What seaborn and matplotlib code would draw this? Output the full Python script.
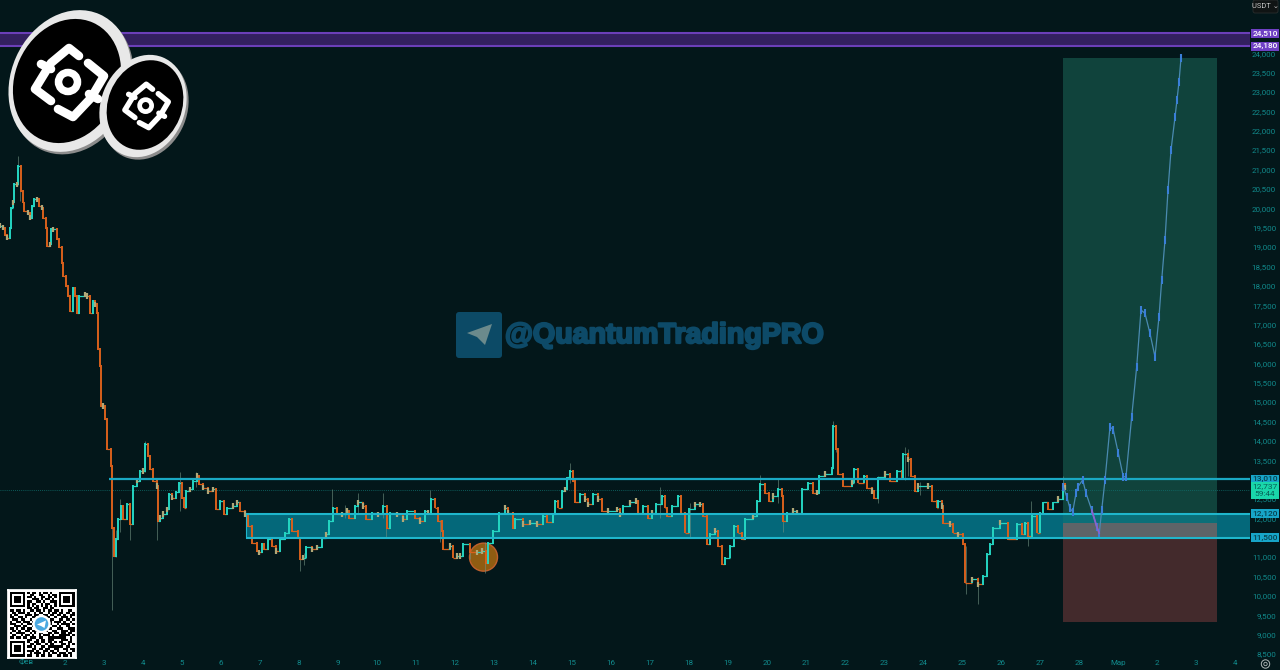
import numpy as np
import matplotlib
matplotlib.use("Agg")
import matplotlib.pyplot as plt
import matplotlib.patheffects as pe
from matplotlib.patches import Rectangle, Ellipse, Circle, FancyBboxPatch, Polygon
from matplotlib.colors import ListedColormap
import seaborn as sns

# ---------- data ----------
candle_time = [
 0,2.7,5,7.3,10,11,13.3,14.3,16.7,18.3,20.7,22.7,24,28.3,30,32.3,34,36.7,39.3,41.7,43.3,46,47.3,50,50.7,53.3,56.7,59.3,61.7,63.3,66,68.3,70,72.7,75,77.3,79.3,85,87.3,90,92.7,95,96.7,97.7,100,101,103.3,105.3,107.3,
 110.7,111.7,114,116,118.3,120.7,123.3,126.7,130,133.3,136.7,140,143.3,145,147.7,150,152.7,156.7,157.7,160,163.3,166.7,169.3,172,176,179,181.7,184,186,190,193.3,196.7,199,203.3,208.3,213.3,216,220,224,226.7,233.3,236.7,240,245,248.3,251.7,256.7,
 259.3,261.7,264,268.3,271.7,276,280,285,289.3,291.7,298.3,300,303.3,306,311.7,317.3,321.7,326,329.3,332.7,336.7,341.7,346.7,349.3,355,358.3,362.7,366,371.7,378.3,383.3,386.7,390,396.7,403.3,406.7,415,420,425,428.3,430.7,435,438.3,441.7,443.3,450,453.3,456.7,460,463.3,470,476.7,481.7,486,488.3,493.3,499.3,505,508.3,513.3,515,523.3,530,
 536.7,543.3,547.3,552.7,555,558.3,561.7,565,567.3,570,573.3,575,580,585,588.3,593.3,598.3,601.7,608.3,616.7,620,623.3,630,636,638.3,643.3,648.3,651.7,656,661.7,665,667.3,671.7,678.3,680.7,685,689.3,695,700,703.3,706.7,710,715,718.3,721.7,725,730,734,738.3,741.7,745,753.3,756.7,760,765,769.3,773.3,778.3,781.7,783.3,786.7,793.3,
 796.7,801.7,808.3,813.3,816.7,819.3,825,831.7,833.3,836,838.3,843.3,851.7,854,858.3,864,866.7,871.7,874.3,878.3,885,890,896.7,901.7,903.3,908.3,910.7,915,918.3,928.3,931.7,936.7,938.3,941.7,942.7,950,953.3,958.3,963.3,965,971.7,978.3,983.3,986.7,990,993.3,1000,1008.3,1016.7,1021.7,1025,1028.3,1031.7,1036.7,1040,1043.3,1048.3,1053.3,1058.3,1063.3,1065,
]
candle_close = [
 19550,19500,19300,19240,19500,20020,20150,20620,20620,21090,20450,20150,19930,19890,19760,20060,20230,20230,20060,20020,19760,19500,19030,19070,19460,19460,19200,18990,18600,18260,18000,17740,17350,17950,17740,17310,17740,17780,17740,17310,17610,17520,17310,16360,15930,14900,14900,14560,13780,
 13350,11760,11030,11460,11980,12320,11980,12365,11850,12840,12970,13225,13225,13910,13610,13270,12970,12840,11935,12020,12110,12235,12620,12535,12670,12925,12535,12280,12710,12750,12970,13100,12880,12795,12710,12750,12235,12450,12110,12280,12320,12410,12195,12110,11805,11375,11160,
 11120,11335,11200,11460,11290,11160,11460,11630,11980,11680,11500,10950,10990,11250,11200,11250,11500,11590,11935,12280,12105,12105,12195,12020,12320,12410,12320,11980,12150,12105,12320,11760,12150,12105,11980,12195,12020,11935,12195,12150,12495,12280,11935,11680,11200,11290,10990,11030,11030,11335,11120,11120,11160,10860,11375,11680,12150,12280,12150,11760,11980,11850,11890,
 11850,12065,11910,12105,12450,12280,12710,12750,13055,13225,12965,12410,12625,12495,12365,12625,12495,12195,12195,12235,12105,12320,12410,12450,12150,12320,12020,12150,12365,12580,12280,12065,12320,12580,12150,11635,12235,12365,12365,12065,11335,11590,11680,11290,10815,10990,11290,11805,11635,11460,11980,12065,12450,12880,12665,12450,12580,12750,12580,11935,12150,12195,
 12150,12750,12925,12665,12665,13095,13140,13310,14385,13785,13140,12840,12925,13270,12925,13095,12795,12710,12535,13055,13140,12965,13225,13055,13655,13525,13095,12710,12840,12840,12450,12280,12450,12320,11890,11850,11635,11590,11335,10345,10430,10300,10515,11075,11335,11760,11890,11460,11850,11590,11890,11550,12065,11635,12150,12410,12235,12410,12495,12880,12795,
]
wick_time = [18,20,112,116,120,130,145,157,180,196,300,304,332,345,358,383,386,430,440,470,485,570,660,690,760,778,783,833,836,905,908,878,920,978,966,1028,1031,1063]
wick_high = [21350,21090,11760,11700,12500,12100,14000,12840,13200,13200,11050,11100,12750,12350,12650,12650,12320,12720,11950,11300,11400,13430,12800,12400,13130,13050,12600,14500,14385,13850,13800,13100,12950,10500,11300,11700,12450,13100]
wick_low = [20600,20200,9640,11000,11650,11450,13200,11450,12200,12800,10650,10800,12100,12000,12100,12000,11500,12150,11400,10950,10600,12900,12000,11500,12600,12400,11650,13300,13700,13000,13100,12400,12600,9790,10050,11300,11800,12500]
plan_time = [1063.3,1066.7,1070,1072.7,1076,1078,1082.7,1086,1091.7,1096.7,1099.3,1101.7,1105,1110,1113.3,1118.3,1123.3,1126,1131.7,1136.7,1141,1145,1150,1155,1159,1161.7,1165,1168,1171,1175,1177,1179,1181]
plan_price = [12820,12560,12260,12170,12650,12820,12990,12650,12216,11790,11615,12216,12990,14366,14280,13680,13075,13075,14625,15915,17375,17290,16770,16170,17200,18150,19180,20470,21500,22350,22800,23260,23880]
purple_levels = [24510, 24180]
cyan_levels = [13010, 12120, 11500]
last_price = 12737
entry_price, target_price, stop_price = 11888, 23880, 9330
price_ticks = list(range(8500, 24500, 500))
day_labels = ["Фев"] + [str(d) for d in range(2, 29)] + ["Мар", "2", "3", "4"]
qr_rows = """
1111111 01011 01011 01000 1111111
1000001 00110 01100 10110 1000001
1011101 01101 00110 11010 1011101
1011101 00011 10101 10100 1011101
1011101 01100 11010 01110 1011101
1000001 01011 00101 10010 1000001
1111111 01010 10101 01010 1111111
00000000 11011 00110 110 00000000
11011 01001 10110 10110 11010 0110
01101 11010 01011 00101 10110 1101
10110 00111 01100 11011 01101 0011
11001 10100 11010 01100 10011 1010
01110 11001 00110 11011 00110 1101
10011 01110 10011 00110 11101 0010
11100 10011 01101 10010 01011 1101
00111 01100 11010 01101 10100 1100
11010 11011 00101 10110 01110 0111
01101 00110 11100 11001 10011 1011
10011 11001 01011 00110 11011 0110
01100 10110 10010 11101 00111 1101
11011 01101 11011 00111 11111 0010
00000000 11001 01101 1 10001 1 1010
1111111 0 10011 01101 1 01011 0 0110
1000001 0 01101 10010 1 10001 1 0101
1011101 0 11010 01101 1 11111 0 1100
1011101 0 00110 11011 0 01100 1 1011
1011101 0 11101 00110 1 10100 0 1001
1000001 0 01011 10101 0 11011 1 0110
1111111 0 11001 01101 1 00110 1 1010
"""

# ---------- style ----------
BG = "#03171a"
UP, DOWN, DOJI = "#24d6c2", "#d9601c", "#b0a878"
TICK = "#118a8c"
sns.set_theme(style="dark", rc={"axes.facecolor": BG, "figure.facecolor": BG,
                                "axes.grid": False})
plt.rcParams["font.family"] = ["Roboto", "DejaVu Sans"]

fig = plt.figure(figsize=(12.8, 6.7), dpi=100)
ax = fig.add_axes([0, 0, 1, 1])
ax.set_xlim(0, 1280)
ax.set_ylim(8088, 25374)
PX = (25374 - 8088) / 670.0
for s in ax.spines.values():
    s.set_visible(False)
ax.set_axisbelow(True)

# axes ticks (inside the frame, as in the trading terminal)
ax.yaxis.tick_right()
ax.set_yticks(price_ticks)
ax.set_yticklabels([f"{p:,}" for p in price_ticks], fontsize=5.8, color=TICK)
for lb in ax.get_yticklabels():
    lb.set_ha("right")
ax.tick_params(axis="y", length=0, pad=-2.9)
ax.set_xticks(np.arange(len(day_labels)) * 39 + 26)
ax.set_xticklabels(day_labels, fontsize=5.8, color=TICK)
ax.tick_params(axis="x", length=0, pad=-7.5)

# purple range
ax.fill_between([0, 1250], purple_levels[1], purple_levels[0], color="#33205f", lw=0, zorder=1)
ax.hlines(purple_levels, 0, 1250, color="#6b3fb8", lw=1.5, zorder=1.5)

# demand band and levels
ax.fill_between([246, 1250], cyan_levels[2], cyan_levels[1], color="#04687a", lw=0, zorder=1)
ax.add_patch(Rectangle((1063, entry_price), 154, target_price - entry_price, color="#10433c", lw=0, zorder=1.2))
ax.add_patch(Rectangle((1063, stop_price), 154, entry_price - stop_price, color="#432a2c", lw=0, zorder=1.2))
ax.add_patch(Rectangle((1063, entry_price), 154, cyan_levels[1] - entry_price, color="#0b6f78", lw=0, zorder=1.3))
ax.add_patch(Rectangle((1063, cyan_levels[2]), 154, entry_price - cyan_levels[2], color="#5d6468", lw=0, zorder=1.3))
ax.hlines(last_price, 0, 1250, color="#0f6f6c", lw=0.6, linestyles=(0, (1, 1.5)), zorder=1.6)
ax.add_patch(Ellipse((483.5, 11000), 28, 28 * PX, fc="#8f5c12", ec="#c0602c", lw=1.0, zorder=2))

# candles
t = np.array(candle_time, float)
c = np.array(candle_close, float)
o = np.r_[c[0], c[:-1]]
colors = [UP if b >= a else DOWN for a, b in zip(o, c)]
ax.vlines(wick_time, wick_low, wick_high, color="#6f8f80", lw=0.6, alpha=0.7, zorder=3)
ax.hlines(c[:-1], t[:-1], t[1:], colors=colors[:-1], lw=0.9, zorder=3.5)
ax.vlines(t, np.minimum(o, c) - 25, np.maximum(o, c) + 25, colors=colors, lw=1.4, zorder=3.6)
small = np.abs(c - o) <= 130
ax.vlines(t[small], c[small] - 70, c[small] + 70, color=DOJI, lw=1.6, zorder=3.7)

# cyan levels on top of the band
ax.hlines(cyan_levels[0], 109, 1250, color="#1aa9c4", lw=1.6, zorder=4)
ax.hlines(cyan_levels[1:], 246, 1250, color="#1fb6cc", lw=1.5, zorder=4)
ax.vlines(246, cyan_levels[2], cyan_levels[1], color="#1fb6cc", lw=0.8, zorder=4)

# projected path
sns.lineplot(x=plan_time, y=plan_price, ax=ax, color="#4a8ab0", lw=0.9, estimator=None,
             sort=False, zorder=5, legend=False)
sns.lineplot(x=plan_time, y=plan_price, ax=ax, color="#3a7fd8", lw=0, marker="|", markersize=6,
             markeredgewidth=1.5, markeredgecolor="#3a7fd8", estimator=None, sort=False,
             zorder=5.1, legend=False)
sns.lineplot(x=plan_time[8:11], y=plan_price[8:11], ax=ax, color="#8a62cc", lw=1.3, estimator=None,
             sort=False, zorder=5.2, legend=False)
ax.set_xlabel("")
ax.set_ylabel("")

# price labels on the scale
def price_box(price, text, fc, tc, h=9.3):
    ax.add_patch(Rectangle((1250.7, price - h / 2 * PX), 28.3, h * PX, fc=fc, ec="none", zorder=8))
    ax.text(1265, price, text, ha="center", va="center", fontsize=6.0, color=tc,
            zorder=9, fontweight="medium")

price_box(purple_levels[0], "24,510", "#6f40c4", "#ffffff")
price_box(purple_levels[1], "24,180", "#6f40c4", "#ffffff")
price_box(cyan_levels[0], "13,010", "#17a5c8", "#07414e")
price_box(cyan_levels[1], "12,120", "#17a5c8", "#07414e")
price_box(cyan_levels[2], "11,500", "#17a5c8", "#07414e")
ax.add_patch(Rectangle((1250.7, last_price - 9 * PX), 28.3, 17 * PX, fc="#19d6aa", ec="none", zorder=8))
ax.text(1265, last_price + 3.8 * PX, "12,737", ha="center", va="center", fontsize=6.0, color="#075f56", zorder=9)
ax.text(1265, last_price - 4.2 * PX, "59:44", ha="center", va="center", fontsize=6.0, color="#075f56", zorder=9)

# QR code
qr = np.array([[int(ch) for ch in row.replace(" ", "")] for row in qr_rows.strip().splitlines()])
ax_qr_bg = fig.add_axes([8 / 1280, 1 - 658 / 670, 68 / 1280, 68 / 670], zorder=2)
ax_qr_bg.set_facecolor("white")
ax_qr_bg.set_xticks([]); ax_qr_bg.set_yticks([])
ax_qr = fig.add_axes([9.5 / 1280, 1 - 656.5 / 670, 65 / 1280, 65 / 670], zorder=3)
sns.heatmap(qr, ax=ax_qr, cbar=False, cmap=ListedColormap(["white", "black"]),
            xticklabels=False, yticklabels=False, vmin=0, vmax=1)

# overlay in figure pixels: logo, watermark
ov = fig.add_axes([0, 0, 1, 1], zorder=5)
ov.set_xlim(0, 1280); ov.set_ylim(670, 0)
ov.axis("off"); ov.patch.set_alpha(0)

# QR telegram badge
ov.add_patch(Circle((41.5, 624), 9.2, fc="white", ec="none"))
ov.add_patch(Circle((41.5, 624), 6.8, fc="#4aa8e0", ec="none"))
ov.add_patch(Polygon([(37, 624.5), (46, 620.5), (44.5, 628), (41, 626)], fc="white", ec="none"))

# USDT badge and settings icon
ov.add_patch(FancyBboxPatch((1253, 0), 25, 13, boxstyle="round,pad=0,rounding_size=2", fc="#101414", ec="#2a2e2e", lw=0.6))
ov.text(1265.5, 6.5, "USDT ⌄", ha="center", va="center", fontsize=5.4, color="#c8c8c8",
        family=["Roboto", "DejaVu Sans"])
ov.add_patch(Circle((1265.5, 664), 4.2, fc="none", ec="#b0b8b8", lw=0.7))
ov.add_patch(Circle((1265.5, 664), 1.7, fc="none", ec="#b0b8b8", lw=0.6))

# coins
def coin(cx, cy, major, minor, angle, scale, icx, icy):
    ov.add_patch(Ellipse((cx + 2, cy + 2.5), major, minor, angle=angle, fc="#8c8c8c", ec="none"))
    ov.add_patch(Ellipse((cx, cy), major, minor, angle=angle, fc="#e8e8e8", ec="none"))
    ov.add_patch(Ellipse((icx, icy), major * 0.875, minor * 0.88, angle=angle, fc="#000000", ec="none"))
    ring_c = (icx + 1 * scale, icy + 1 * scale)
    ov.add_patch(Circle(ring_c, 9.5 * scale, fc="none", ec="white", lw=5.4 * scale))
    lw = 6.2 * scale
    left = [(11, -26), (1, -34), (-17, -19), (-22, -11), (-33, 7), (-17, 19)]
    right = [(-10, 27), (5, 35), (23, 16), (36, -6), (20, -19)]
    ticks = [[(-27, -18), (-17, -13)], [(30, 17), (21, 12)]]
    for pts in [left, right] + ticks:
        xs = [ring_c[0] + p[0] * scale for p in pts]
        ys = [ring_c[1] + p[1] * scale for p in pts]
        ov.plot(xs, ys, color="white", lw=lw, solid_capstyle="round", solid_joinstyle="round")

coin(70, 81, 146, 118, 114, 1.0, 67, 81)
coin(143, 106, 105, 84, 112, 0.63, 145, 105)

# watermark
ov.add_patch(FancyBboxPatch((456, 312), 46, 46, boxstyle="round,pad=0,rounding_size=3", fc="#0c4a66", ec="none"))
ov.add_patch(Polygon([(467, 333), (492, 324), (485, 345), (477, 337)], fc="#6b8a8c", ec="none"))
ov.text(505, 335, "@QuantumTradingPRO", ha="left", va="center", fontsize=20.6, color="#0d4a68",
        fontweight="bold", family=["Liberation Sans"],
        path_effects=[pe.withStroke(linewidth=1.6, foreground="#0d4a68")])

fig.savefig("out.png", dpi=100, facecolor=BG)
